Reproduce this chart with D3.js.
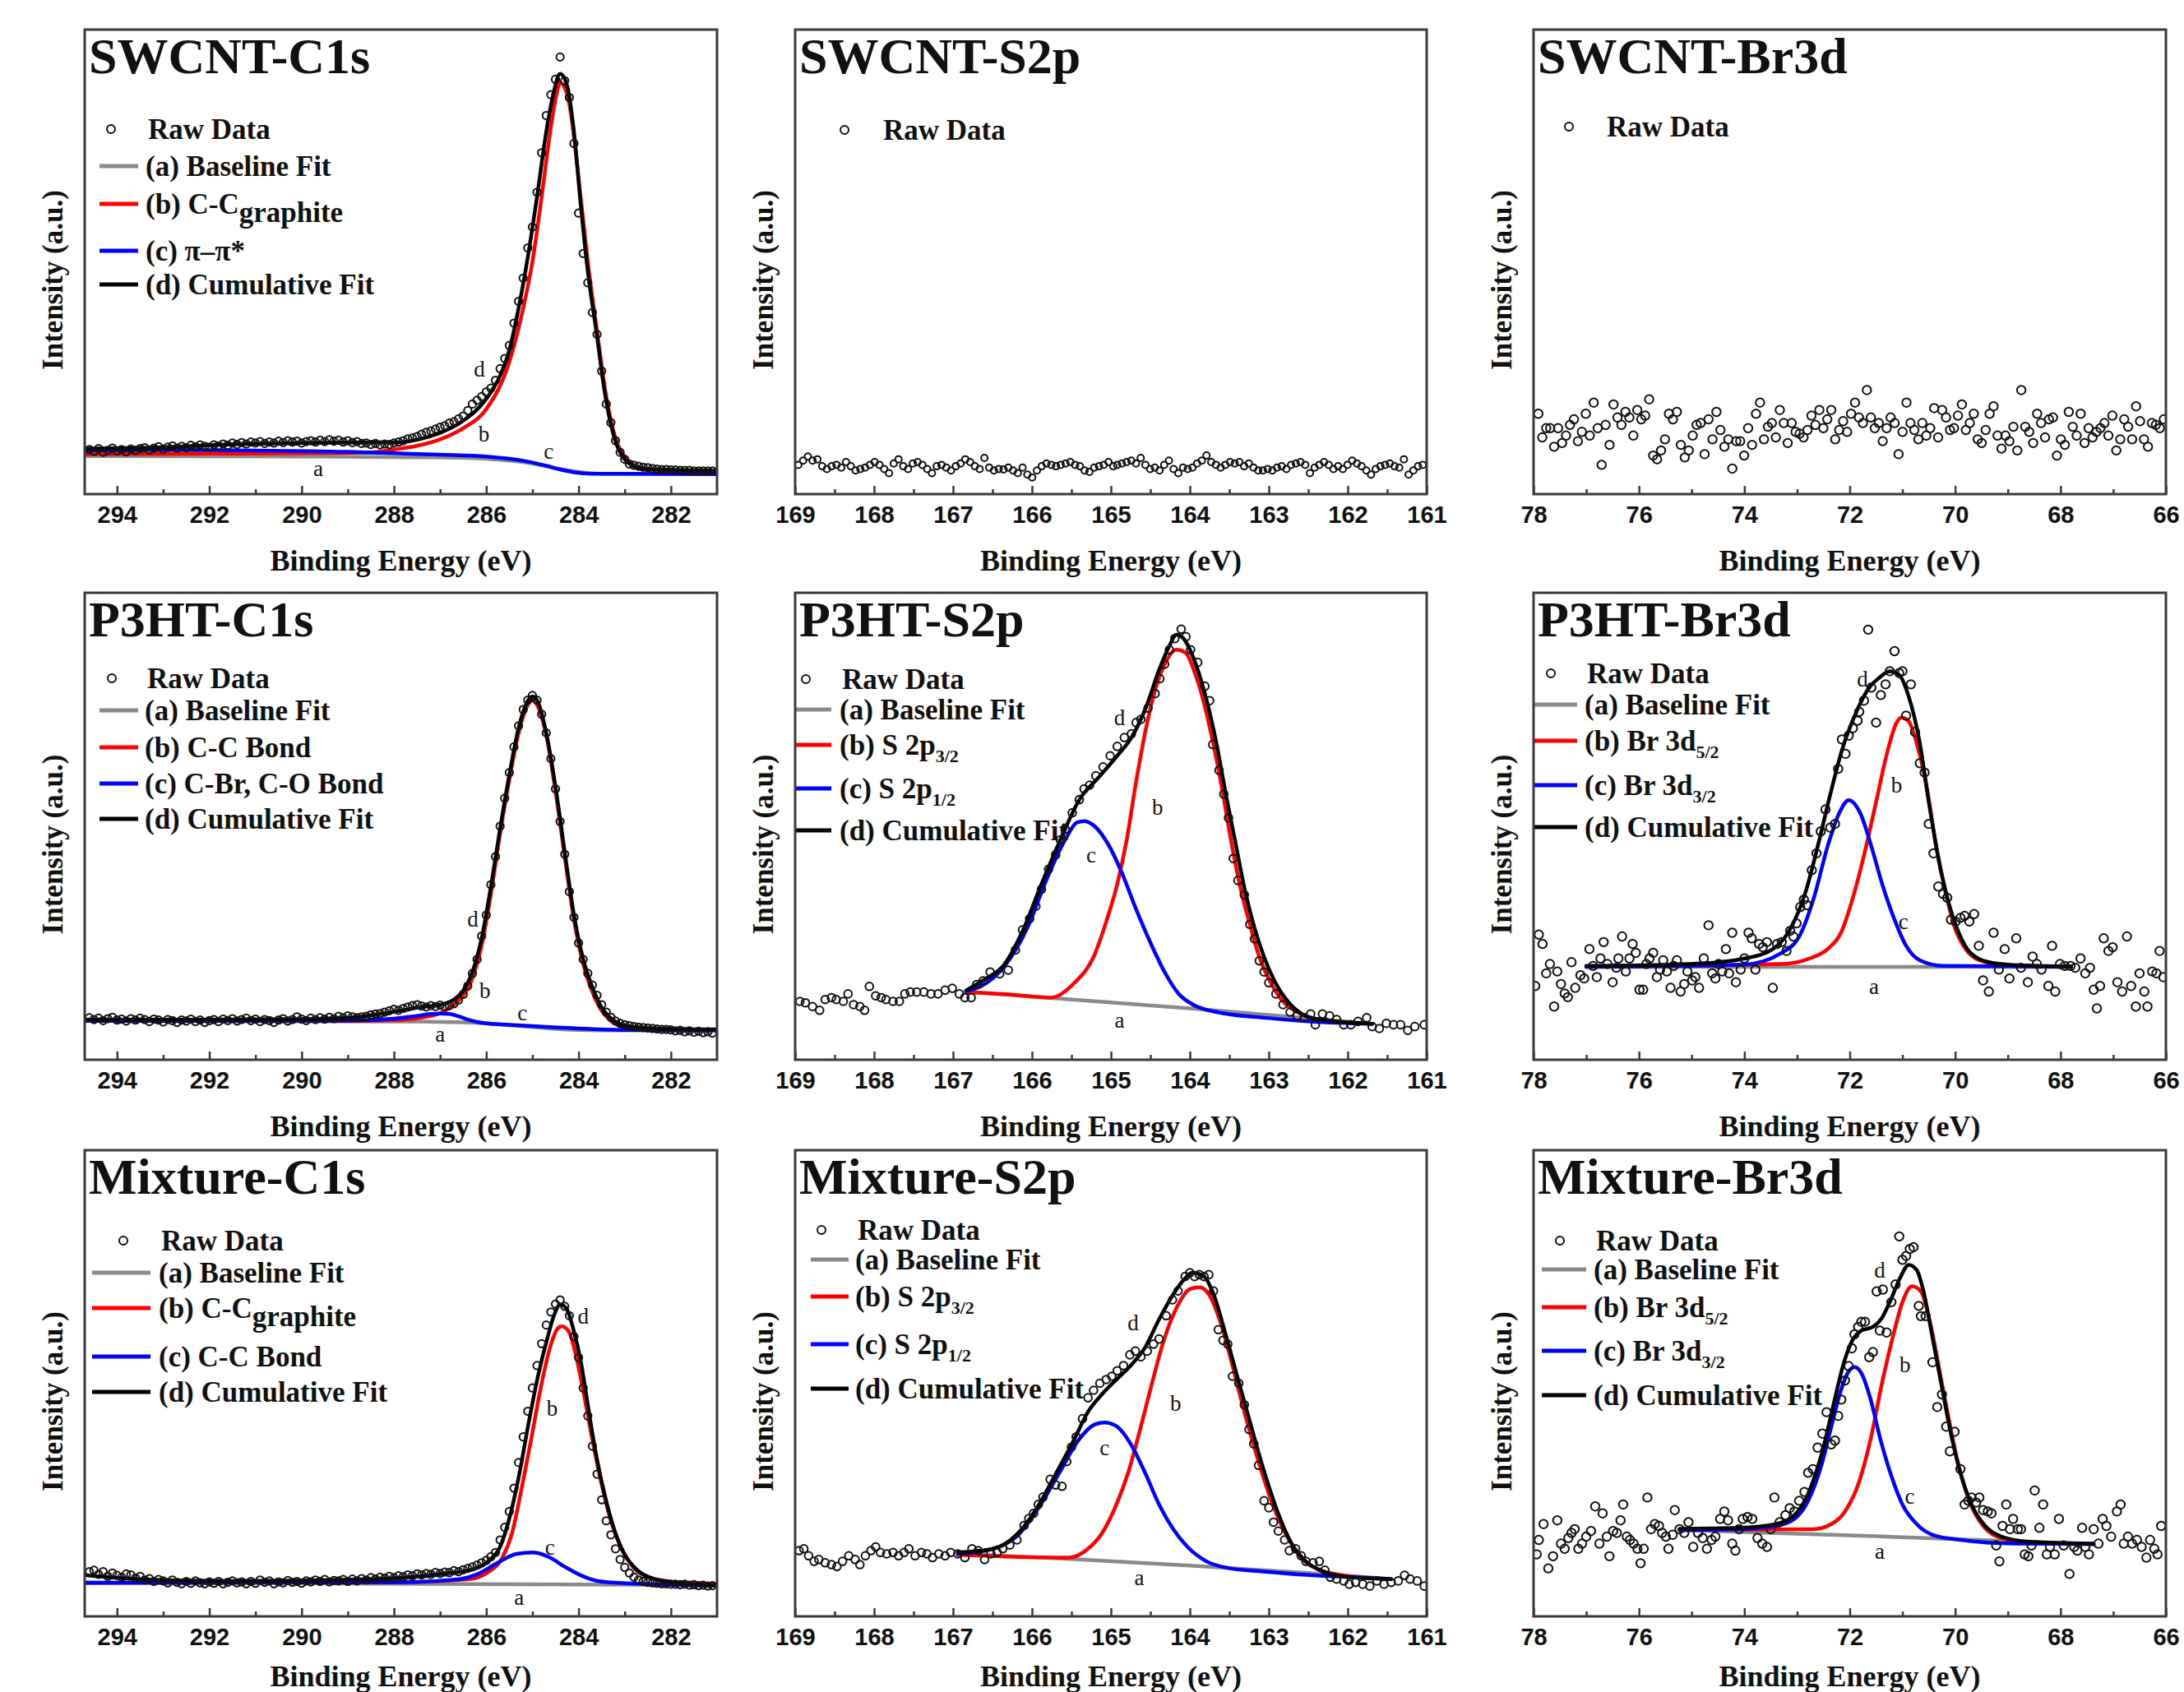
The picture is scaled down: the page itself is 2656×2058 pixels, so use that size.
<!DOCTYPE html>
<html>
<head>
<meta charset="utf-8">
<script src="https://cdn.jsdelivr.net/npm/d3@7"></script>
<style>
  body { margin: 0; background: #fff; }
  svg { display: block; }
</style>
</head>
<body>
<svg id="chart" width="2656" height="2058"></svg>
<script>
// ---- axis ticks (binding energy, eV) ----
const c1sDomain = [294.7, 281];
const c1sTicks = [294, 292, 290, 288, 286, 284, 282];
const c1sMinor = [293, 291, 289, 287, 285, 283];
const s2pDomain = [169, 161];
const s2pTicks = [169, 168, 167, 166, 165, 164, 163, 162, 161];
const s2pMinor = [168.5, 167.5, 166.5, 165.5, 164.5, 163.5, 162.5, 161.5];
const br3dDomain = [78, 66];
const br3dTicks = [78, 76, 74, 72, 70, 68, 66];
const br3dMinor = [77, 75, 73, 71, 69, 67];

// ---- raw data, intensity in % of panel height ----
// C1s spectra: 0.1 eV steps starting at 294.6 eV
const swcntC1sRaw = [
  9.6, 9.2, 9.8, 9.0, 9.4, 9.9, 9.3, 9.6, 9.1, 9.7,
  9.4, 9.8, 10.0, 9.5, 9.9, 10.2, 9.7, 10.1, 10.4, 9.9,
  10.3, 10.0, 10.5, 10.2, 10.6, 10.3, 10.1, 10.6, 10.4, 10.8,
  10.5, 11.0, 10.7, 11.1, 10.8, 11.2, 11.0, 11.3, 10.9, 11.2,
  11.0, 11.4, 11.1, 11.5, 11.2, 11.4, 11.0, 11.3, 11.5, 11.2,
  11.6, 11.3, 11.7, 11.4, 11.6, 11.2, 11.5, 11.1, 11.3, 10.9,
  11.0, 10.7, 10.9, 10.6, 10.8, 10.7, 11.0, 11.2, 11.5, 11.9,
  12.1, 12.4, 12.9, 13.3, 13.6, 14.0, 14.4, 14.7, 15.3, 15.6,
  16.2, 16.8, 18.0, 19.4, 20.2, 21.0, 22.0, 22.8, 24.5, 27.0,
  29.2, 32.0, 36.8, 41.5, 46.5, 53.0, 57.5, 65.0, 73.5, 81.5,
  86.0, 89.3, 94.1, 89.0, 85.4, 75.5, 60.5, 51.8, 45.5, 39.1,
  34.4, 26.5, 19.4, 15.4, 11.5, 9.0, 7.5, 6.5, 6.2, 6.0,
  5.8, 5.7, 5.5, 5.4, 5.3, 5.3, 5.2, 5.2, 5.1, 5.1,
  5.1, 5.0, 5.0, 5.0, 5.0, 5.0
];
const p3htC1sRaw = [
  9.0, 8.6, 8.9, 8.4, 8.8, 9.1, 8.5, 8.7, 8.3, 8.8,
  8.5, 8.9, 8.6, 8.2, 8.7, 8.5, 8.1, 8.6, 8.4, 8.0,
  8.5, 8.3, 8.7, 8.2, 8.5, 8.0, 8.4, 8.6, 8.2, 8.7,
  8.4, 8.8, 8.3, 8.6, 8.9, 8.4, 8.7, 8.2, 8.6, 8.4,
  8.0, 8.5, 8.8, 8.3, 8.6, 9.2, 8.7, 8.4, 8.9, 8.6,
  9.0, 8.7, 9.1, 8.8, 9.3, 9.0, 9.4, 9.2, 9.0, 9.2,
  9.3, 9.6, 9.8, 9.9, 10.2, 10.5, 10.8, 10.6, 11.0, 11.3,
  11.6, 11.8, 11.5, 11.3, 11.6, 11.4, 11.7, 11.4, 11.6, 12.0,
  12.8, 14.0, 15.8, 18.5, 21.5, 26.5, 31.0, 37.5, 43.5, 50.0,
  56.0, 61.5, 67.0, 71.5, 75.0, 77.0, 78.0, 77.0, 74.0, 70.0,
  64.5, 58.0, 51.0, 44.0, 36.0, 30.5, 25.0, 21.5, 18.5, 16.0,
  13.8, 11.8, 10.2, 9.1, 8.3, 7.8, 7.5, 7.3, 7.1, 7.0,
  6.9, 6.8, 6.7, 6.6, 6.5, 6.5, 6.4, 6.2, 6.3, 6.0,
  6.2, 5.9, 6.1, 5.8, 6.0, 5.7
];
const mixC1sRaw = [
  9.6, 9.9, 9.0, 9.6, 8.6, 9.3, 8.8, 8.4, 9.1, 8.9,
  8.2, 8.6, 7.8, 8.1, 7.5, 7.9, 7.6, 7.2, 7.8, 7.3,
  7.0, 7.5, 7.1, 7.6, 7.2, 7.0, 7.4, 7.1, 7.5, 7.0,
  7.3, 7.6, 7.2, 7.4, 7.0, 7.5, 7.1, 7.8, 7.3, 7.6,
  7.0, 7.4, 7.2, 7.7, 7.3, 7.5, 7.1, 7.6, 7.4, 7.8,
  7.5, 7.9, 7.4, 7.7, 7.6, 7.9, 7.5, 8.0, 7.6, 8.1,
  7.8, 8.3, 8.0, 8.4, 8.2, 8.6, 8.3, 8.7, 8.5, 8.9,
  8.7, 9.1, 8.9, 9.2, 9.0, 9.4, 9.2, 9.5, 9.4, 9.8,
  9.6, 10.0, 10.3, 10.6, 11.0, 11.5, 12.0, 12.8, 13.7, 16.4,
  19.1, 22.5, 27.5, 33.0, 38.5, 44.0, 49.0, 53.8, 58.5, 62.5,
  65.3, 67.0, 67.9, 66.5, 64.5, 60.0, 55.5, 49.0, 43.0, 36.5,
  30.5, 25.0, 20.5, 17.5, 14.5, 12.2, 10.5, 9.3, 8.4, 7.8,
  7.5, 7.3, 7.2, 7.1, 7.0, 7.0, 6.9, 6.9, 6.8, 6.9,
  6.7, 6.8, 6.6, 6.7, 6.5, 6.6
];
// SWCNT S2p: evenly spread 168.96 -> 164.97 eV, then 164.92 -> 161.05 eV
const swcntS2pRawHigh = [
  6.3, 7.2, 8.1, 7.2, 7.5, 6.0, 5.4, 6.0, 6.3, 5.7,
  6.9, 6.0, 5.1, 5.4, 5.7, 6.3, 6.9, 6.3, 5.4, 4.5,
  6.6, 7.5, 6.0, 5.4, 6.6, 6.9, 6.3, 5.4, 4.5, 6.0,
  6.3, 5.7, 5.1, 6.0, 6.6, 7.5, 6.9, 6.0, 5.4, 7.8,
  5.7, 5.1, 5.4, 5.3, 5.7, 5.1, 4.5, 5.7, 4.2, 3.6,
  5.1, 6.0, 6.6, 6.3, 6.0, 6.3, 6.6, 6.9, 6.3, 6.0,
  5.1, 4.8, 5.7, 6.0, 6.3, 6.9, 6.0
];
const swcntS2pRawLow = [
  6.3, 6.6, 6.9, 7.2, 6.6, 7.8, 6.3, 5.4, 5.7, 5.1,
  6.3, 7.2, 5.4, 4.5, 5.7, 5.4, 5.7, 6.6, 7.2, 8.3,
  6.9, 6.3, 5.7, 6.3, 6.9, 6.6, 6.9, 6.0, 6.6, 5.7,
  5.1, 5.1, 5.4, 5.1, 5.7, 6.0, 5.4, 6.3, 6.6, 6.9,
  6.3, 4.5, 5.7, 6.3, 6.9, 6.3, 5.4, 6.0, 5.4, 6.3,
  7.2, 6.6, 6.0, 5.1, 4.2, 5.4, 6.0, 6.3, 6.6, 6.0,
  5.7, 7.5, 4.2, 5.1, 6.0, 6.3
];
// SWCNT Br3d: evenly spread from 77.91 to 66.04 eV
const swcntBr3dRaw = [
  17.3, 12.2, 14.2, 14.2, 10.2, 14.2, 11.0, 12.6, 14.9, 16.1,
  11.4, 13.4, 17.3, 12.6, 19.7, 14.2, 6.3, 14.9, 10.6, 19.3,
  16.5, 14.9, 17.7, 16.5, 12.6, 18.1, 16.1, 16.9, 20.4, 8.3,
  7.5, 9.4, 11.8, 17.3, 16.1, 17.7, 10.6, 7.9, 9.4, 12.6,
  14.9, 15.3, 8.6, 16.1, 11.8, 17.7, 13.8, 10.2, 11.8, 5.5,
  11.4, 11.4, 8.3, 14.2, 10.6, 17.3, 19.7, 11.8, 14.5, 15.3,
  12.2, 18.1, 15.3, 11.0, 15.3, 13.4, 13.0, 12.2, 13.8, 16.9,
  14.9, 18.1, 14.2, 16.1, 18.1, 11.8, 13.8, 15.7, 13.4, 17.3,
  19.7, 16.5, 15.3, 22.4, 16.5, 14.2, 15.3, 11.4, 14.2, 16.5,
  15.3, 8.6, 13.4, 19.7, 15.3, 13.8, 11.8, 15.3, 12.6, 14.2,
  18.5, 12.2, 18.1, 16.5, 13.8, 14.2, 16.9, 19.3, 13.8, 15.3,
  17.3, 11.8, 11.0, 13.8, 17.3, 18.9, 12.6, 9.8, 12.6, 11.4,
  14.5, 9.4, 22.4, 14.5, 13.4, 11.0, 17.3, 15.3, 12.2, 16.1,
  16.5, 8.3, 11.8, 10.6, 17.7, 14.5, 12.6, 17.3, 11.0, 14.2,
  12.2, 13.4, 14.2, 15.3, 12.6, 16.9, 9.4, 11.8, 16.1, 14.5,
  11.8, 18.9, 15.7, 11.8, 10.2, 15.3, 14.9, 14.2, 16.1
];
// [eV, intensity] pairs
const p3htS2pRaw = [
  [168.94,12.5],[168.87,12.2],[168.78,11.4],[168.69,10.6],[168.62,12.9],[168.54,13.3],[168.48,12.9],[168.39,12.5],
  [168.33,14.1],[168.26,11.8],[168.18,11.4],[168.12,10.6],[168.06,15.7],[167.98,13.7],[167.91,13.3],[167.85,12.9],
  [167.76,12.5],[167.68,12.5],[167.61,14.1],[167.54,14.5],[167.46,14.5],[167.37,14.5],[167.28,14.1],[167.19,14.1],
  [167.10,14.9],[167.01,15.3],[166.92,14.1],[166.85,13.3],[166.77,13.3],[166.70,16.1],[166.62,16.9],[166.53,18.8],
  [166.41,18.4],[166.30,19.2],[166.21,23.5],[166.12,27.8],[166.03,30.2],[165.95,32.9],[165.88,36.5],[165.79,40.8],
  [165.70,43.9],[165.64,47.1],[165.58,49.4],[165.49,52.9],[165.40,55.7],[165.34,58.0],[165.27,58.8],[165.19,60.8],
  [165.10,62.7],[165.01,65.1],[164.92,67.1],[164.83,69.0],[164.74,69.8],[164.68,72.2],[164.62,72.9],[164.53,75.3],
  [164.44,78.4],[164.38,81.6],[164.32,84.7],[164.26,87.8],[164.19,90.2],[164.11,92.2],[164.05,90.6],[163.99,87.8],
  [163.90,85.1],[163.81,80.0],[163.75,76.9],[163.71,67.5],[163.63,62.0],[163.57,56.9],[163.51,51.8],[163.45,43.1],
  [163.39,38.4],[163.31,35.3],[163.24,29.0],[163.18,25.9],[163.12,21.2],[163.06,18.8],[163.00,16.5],[162.91,14.1],
  [162.82,11.8],[162.73,10.2],[162.64,9.4],[162.55,9.0],[162.47,9.8],[162.41,7.5],[162.32,9.8],[162.23,9.4],
  [162.14,8.6],[162.05,7.5],[161.96,7.5],[161.87,8.2],[161.76,9.0],[161.69,7.1],[161.60,6.7],[161.51,7.8],
  [161.42,7.5],[161.33,7.5],[161.24,6.3],[161.15,7.1],[161.03,7.5]
];
const mixS2pRaw = [
  [168.95,14.1],[168.89,14.5],[168.83,13.0],[168.76,11.8],[168.70,12.2],[168.62,11.5],[168.54,11.1],[168.47,10.7],
  [168.40,11.8],[168.32,13.0],[168.24,12.2],[168.18,11.1],[168.11,13.0],[168.04,14.1],[167.98,14.9],[167.92,13.7],
  [167.84,13.4],[167.76,13.7],[167.69,13.0],[167.62,13.7],[167.56,14.5],[167.48,13.0],[167.40,13.7],[167.33,13.4],
  [167.26,12.6],[167.18,13.4],[167.10,13.0],[167.03,13.7],[166.94,13.4],[166.85,12.6],[166.76,14.5],[166.68,14.1],
  [166.60,12.2],[166.52,13.4],[166.44,13.7],[166.37,14.5],[166.28,15.3],[166.19,16.4],[166.10,19.5],[166.04,21.0],
  [165.98,22.1],[165.92,24.0],[165.86,25.6],[165.77,29.4],[165.70,28.2],[165.62,27.9],[165.56,33.2],[165.50,36.3],
  [165.44,38.5],[165.36,42.4],[165.29,46.9],[165.22,48.5],[165.14,50.0],[165.06,50.8],[164.99,51.5],[164.92,52.7],
  [164.84,53.8],[164.76,56.1],[164.69,56.9],[164.62,55.7],[164.54,56.9],[164.46,58.4],[164.39,59.5],[164.30,64.5],
  [164.22,67.9],[164.15,69.8],[164.06,72.9],[164.00,73.7],[163.94,72.9],[163.88,73.3],[163.82,72.9],[163.76,73.3],
  [163.70,69.8],[163.64,61.5],[163.58,59.2],[163.52,58.4],[163.46,51.5],[163.38,50.0],[163.31,45.4],[163.25,40.1],
  [163.19,37.0],[163.13,32.4],[163.06,24.8],[163.00,23.3],[162.94,20.2],[162.88,18.3],[162.80,16.4],[162.74,14.1],
  [162.66,14.5],[162.59,13.0],[162.53,11.8],[162.44,11.5],[162.36,11.8],[162.29,9.9],[162.22,8.4],[162.14,8.0],
  [162.05,7.6],[161.98,6.9],[161.90,7.3],[161.81,6.9],[161.72,6.5],[161.63,7.6],[161.54,6.9],[161.45,7.3],
  [161.36,7.6],[161.28,8.8],[161.21,8.0],[161.12,7.6],[161.03,6.5]
];
const p3htBr3dRaw = [
  [77.97,15.8],[77.90,26.8],[77.83,24.8],[77.76,18.5],[77.69,20.5],[77.61,11.4],[77.55,18.9],[77.48,16.2],
  [77.41,14.2],[77.35,13.4],[77.28,20.9],[77.21,15.4],[77.11,18.1],[77.04,17.4],[76.94,23.7],[76.87,20.1],
  [76.80,17.7],[76.73,21.7],[76.67,25.2],[76.60,20.5],[76.50,16.6],[76.43,19.7],[76.39,21.7],[76.32,26.4],
  [76.25,18.9],[76.18,21.7],[76.12,24.8],[76.06,22.9],[75.99,15.0],[75.92,15.0],[75.86,20.5],[75.80,21.7],
  [75.73,22.9],[75.66,17.7],[75.60,19.3],[75.54,21.3],[75.47,18.9],[75.40,15.4],[75.34,20.1],[75.28,21.3],
  [75.21,14.6],[75.14,16.2],[75.08,18.9],[74.99,17.0],[74.93,17.7],[74.86,15.4],[74.77,21.7],[74.68,28.8],
  [74.61,18.5],[74.55,17.4],[74.49,20.5],[74.42,18.9],[74.35,23.7],[74.29,18.5],[74.23,27.2],[74.16,16.6],
  [74.07,19.3],[74.00,21.7],[73.92,27.2],[73.86,26.0],[73.79,19.3],[73.72,24.8],[73.65,24.1],[73.57,25.2],
  [73.46,15.4],[73.38,24.8],[73.29,25.2],[73.20,23.3],[73.13,27.6],[73.07,26.4],[73.01,29.2],[72.94,32.7],
  [72.87,34.3],[72.81,33.1],[72.72,40.6],[72.63,44.2],[72.55,48.9],[72.46,53.6],[72.37,49.7],[72.28,50.5],
  [72.22,62.3],[72.15,68.6],[72.08,65.5],[72.02,69.4],[71.94,71.0],[71.85,72.6],[71.82,74.5],[71.73,76.9],
  [71.65,92.1],[71.59,79.7],[71.50,72.2],[71.41,78.1],[71.32,80.4],[71.24,83.2],[71.15,87.5],[71.06,82.8],
  [71.00,83.2],[70.93,73.7],[70.84,80.4],[70.76,70.2],[70.67,63.5],[70.58,61.5],[70.50,50.5],[70.41,44.2],
  [70.32,37.1],[70.23,35.5],[70.15,34.7],[70.08,30.0],[69.99,29.6],[69.90,30.4],[69.82,30.8],[69.73,29.6],
  [69.64,31.2],[69.55,24.4],[69.47,17.0],[69.36,14.6],[69.27,27.2],[69.17,19.3],[69.06,23.7],[68.97,17.4],
  [68.84,26.0],[68.75,19.7],[68.62,16.6],[68.53,22.1],[68.45,20.5],[68.36,19.3],[68.23,15.8],[68.16,24.4],
  [68.10,14.6],[68.01,20.5],[67.92,20.1],[67.81,20.1],[67.72,19.7],[67.62,21.7],[67.53,18.5],[67.44,19.7],
  [67.37,15.0],[67.31,11.0],[67.25,15.8],[67.18,26.0],[67.09,23.3],[67.01,24.1],[66.92,16.6],[66.83,14.6],
  [66.74,26.4],[66.66,15.8],[66.57,11.4],[66.50,18.5],[66.41,14.6],[66.35,11.4],[66.26,18.9],[66.18,18.5],
  [66.12,23.3],[66.05,17.7]
];
const mixBr3dRaw = [
  [77.94,13.3],[77.90,16.4],[77.81,19.8],[77.72,10.3],[77.63,12.9],[77.55,20.6],[77.48,15.6],[77.41,14.5],
  [77.34,16.8],[77.28,17.9],[77.22,18.7],[77.15,14.5],[77.08,15.6],[77.00,17.1],[76.91,18.3],[76.83,23.6],
  [76.75,15.6],[76.69,22.1],[76.61,17.1],[76.56,12.9],[76.49,18.3],[76.42,17.9],[76.35,20.6],[76.30,24.0],
  [76.23,17.1],[76.17,16.4],[76.10,15.6],[76.03,14.5],[75.97,11.4],[75.91,14.5],[75.84,25.5],[75.77,18.7],
  [75.70,19.8],[75.62,19.4],[75.56,17.9],[75.49,17.1],[75.44,14.5],[75.36,17.5],[75.32,22.8],[75.23,18.7],
  [75.14,17.9],[75.06,20.2],[74.97,14.9],[74.88,17.9],[74.79,16.8],[74.71,14.5],[74.62,16.4],[74.55,17.1],
  [74.46,20.9],[74.38,22.5],[74.31,20.6],[74.23,15.6],[74.17,14.1],[74.10,18.7],[74.03,20.9],[73.94,21.3],
  [73.85,20.9],[73.75,16.8],[73.66,15.6],[73.57,14.9],[73.50,18.7],[73.43,25.5],[73.33,20.2],[73.22,21.7],
  [73.14,23.2],[73.05,22.5],[72.96,24.8],[72.86,26.7],[72.79,30.8],[72.70,31.6],[72.61,36.2],[72.52,39.2],
  [72.44,43.8],[72.35,36.9],[72.28,37.7],[72.22,43.0],[72.16,46.5],[72.09,50.6],[72.02,53.7],[71.96,57.5],
  [71.91,60.5],[71.84,62.1],[71.78,63.2],[71.71,63.2],[71.63,55.6],[71.56,56.7],[71.49,69.7],[71.43,61.3],
  [71.37,70.1],[71.30,60.9],[71.21,67.4],[71.13,71.2],[71.06,81.5],[71.00,76.5],[70.93,77.3],[70.86,78.8],
  [70.79,79.2],[70.69,66.6],[70.65,64.4],[70.56,64.4],[70.43,54.5],[70.34,44.9],[70.25,47.6],[70.17,40.7],
  [70.10,35.4],[70.01,39.6],[69.90,31.6],[69.82,24.0],[69.75,24.8],[69.69,25.5],[69.60,24.4],[69.54,25.5],
  [69.47,22.8],[69.38,22.5],[69.31,22.1],[69.22,15.2],[69.16,11.8],[69.10,19.4],[69.03,24.0],[68.96,18.7],
  [68.90,20.9],[68.81,18.7],[68.75,18.7],[68.68,13.3],[68.61,12.9],[68.55,15.2],[68.49,27.0],[68.40,19.0],
  [68.33,24.0],[68.26,13.3],[68.20,14.9],[68.11,13.3],[68.03,20.9],[67.94,15.2],[67.83,9.1],[67.74,14.9],
  [67.68,14.1],[67.59,19.0],[67.53,14.9],[67.46,13.3],[67.37,18.7],[67.28,15.6],[67.20,20.9],[67.13,19.4],
  [67.04,17.1],[66.93,22.5],[66.86,24.0],[66.80,15.6],[66.72,17.1],[66.64,15.6],[66.55,16.4],[66.46,14.9],
  [66.37,12.6],[66.30,16.4],[66.22,14.5],[66.16,13.3],[66.09,19.4]
];

// ---- fitted curves: [eV, intensity] ----
const swcntC1sA = [[294.7,8.2],[290,8.1],[287,7.9],[286,7.6],[285,6.6],[284.5,5.6],[284,4.8],[283.5,4.4],[281,4.3]];
const swcntC1sB = [[294.7,8.6],[292,8.7],[290,8.8],[288.5,9.0],[288,9.6],[287.5,10.4],[287,11.8],[286.5,14.2],[286,18.3],
  [285.5,28.5],[285.2,40],[285,50],[284.8,64],[284.6,79],[284.5,85],[284.4,88.5],[284.3,87.5],[284.2,84],[284.1,77],
  [284.0,68],[283.9,59],[283.8,50],[283.6,35],[283.4,21],[283.2,12],[283.0,8.0],[282.8,6.2],[282.5,5.4],[282,5.1],[281,5.0]];
const swcntC1sC = [[294.7,9.4],[293,9.5],[291,9.4],[289,9.1],[288,8.8],[287,8.5],[286,8.1],[285.5,7.6],[285,6.8],
  [284.7,6.1],[284.4,5.3],[284.1,4.7],[283.7,4.4],[281,4.3]];
const swcntC1sD = [[294.7,9.8],[293,10.1],[291.5,10.7],[290,11.0],[289,11.1],[288,11.1],[287.5,11.7],[287,13.2],[286.5,15.8],
  [286,20.5],[285.7,25.5],[285.5,31],[285.3,40],[285.1,51],[284.9,64],[284.7,78],[284.55,86],[284.4,90.5],[284.25,88],
  [284.1,78],[283.95,62],[283.8,48],[283.6,34],[283.45,23],[283.3,15],[283.15,10],[283,7.5],[282.8,6.0],[282.5,5.4],[282,5.2],[281,5.0]];

const p3htC1sA = [[294.7,8.3],[288,8.2],[286.5,8.0],[285.5,7.4],[285,7.0],[284.5,6.6],[284,6.4],[283,6.3],[281,6.3]];
const p3htC1sB = [[294.7,8.3],[289,8.3],[288,8.5],[287.5,8.9],[287,10.0],[286.7,11.8],[286.5,13.8],[286.3,17.5],[286.1,24.5],
  [285.9,35.5],[285.7,48.5],[285.5,60],[285.3,70],[285.1,76],[285.0,77],[284.9,76],[284.7,69.5],[284.5,57.5],[284.3,43.5],
  [284.1,30],[283.9,20.5],[283.7,14.5],[283.5,10.5],[283.3,8.3],[283.1,7.2],[282.8,6.7],[282,6.4],[281,6.3]];
const p3htC1sC = [[294.7,8.3],[289,8.4],[288,8.8],[287.5,9.4],[287.2,9.8],[287,9.9],[286.8,9.8],[286.6,9.3],[286.4,8.6],
  [286.2,8.1],[286,7.8],[285.5,7.5],[285,7.2],[284,6.7],[283,6.4],[281,6.3]];
const p3htC1sD = [[294.7,8.6],[292,8.6],[290,8.7],[289,9.0],[288.3,9.8],[287.8,10.6],[287.4,11.3],[287.1,11.6],[286.9,12.0],
  [286.7,12.9],[286.5,14.8],[286.3,18.8],[286.1,26],[285.9,37],[285.7,49.5],[285.5,61],[285.3,71],[285.1,76.8],[285.0,77.8],
  [284.9,77],[284.7,70],[284.5,58.5],[284.3,44.5],[284.1,31],[283.9,21.5],[283.7,15.5],[283.5,11.2],[283.3,8.9],[283.1,7.6],
  [282.8,7.0],[282,6.6],[281,6.5]];

const mixC1sA = [[294.7,7.3],[281,6.7]];
const mixC1sB = [[294.7,7.2],[288,7.3],[286.37,8.0],[285.96,9.5],[285.65,12.6],[285.44,17.9],[285.24,27.1],[285.03,37.8],
  [284.83,48.5],[284.62,57.6],[284.47,61.5],[284.37,62.2],[284.21,61.1],[284.06,56.1],[283.9,48.5],[283.7,37.8],[283.49,27.9],
  [283.29,20.2],[283.08,14.9],[282.83,10.7],[282.47,8.4],[281.95,7.4],[281,6.9]];
const mixC1sC = [[294.7,7.2],[288,7.3],[286.58,8.0],[286.16,9.2],[285.75,11.5],[285.34,13.4],[284.98,13.7],[284.62,12.6],
  [284.31,10.7],[283.95,8.8],[283.59,7.6],[282.98,7.1],[281,6.6]];
const mixC1sD = [[294.65,8.8],[293.57,8.0],[291.51,7.6],[288.43,8.0],[286.88,9.2],[286.37,9.9],[285.96,11.8],[285.7,14.9],
  [285.5,21.0],[285.29,30.2],[285.08,41.6],[284.88,51.5],[284.67,59.9],[284.52,64.9],[284.4,66.9],[284.26,66.0],[284.11,61.5],
  [283.95,54.6],[283.8,45.4],[283.65,36.3],[283.44,26.3],[283.23,18.7],[283.03,13.7],[282.77,10.3],[282.36,8.0],[281.74,7.1],[281.0,6.6]];

const p3htS2pA = [[166.85,14.6],[165.8,13.3],[164,11.0],[162.5,8.9],[161.7,7.7]];
const p3htS2pB = [[166.83,14.5],[166.3,14.0],[165.76,13.3],[165.46,16.5],[165.22,22.0],[165.04,30.6],[164.92,37.6],[164.8,47.1],
  [164.68,59.6],[164.56,70.6],[164.44,79.2],[164.32,84.7],[164.17,87.8],[164.05,87.1],[163.96,83.9],[163.84,77.6],[163.72,69.0],
  [163.6,58.8],[163.48,47.1],[163.36,36.9],[163.24,29.0],[163.12,22.0],[163.0,17.3],[162.82,12.5],[162.64,10.2],[162.47,9.0],
  [162.17,8.2],[161.69,7.7]];
const p3htS2pC = [[166.83,14.7],[166.65,15.7],[166.35,20.0],[166.06,28.2],[165.82,38.4],[165.58,47.1],[165.43,50.8],[165.34,51.1],
  [165.22,50.2],[165.04,46.3],[164.86,40.0],[164.68,32.2],[164.5,25.1],[164.32,18.8],[164.14,14.1],[163.96,11.8],[163.66,10.2],
  [163.06,9.0],[162.47,8.2],[161.69,7.7]];
const p3htS2pD = [[166.83,14.9],[166.59,17.3],[166.35,20.4],[166.12,27.5],[165.88,37.6],[165.64,47.1],[165.4,55.7],[165.16,60.4],
  [164.92,65.1],[164.74,69.0],[164.56,75.3],[164.38,83.9],[164.26,88.6],[164.17,91.0],[164.08,90.2],[163.96,86.3],[163.81,78.4],
  [163.66,67.5],[163.54,56.5],[163.42,46.3],[163.3,36.1],[163.18,28.2],[163.06,22.0],[162.94,17.3],[162.76,12.5],[162.58,9.8],
  [162.35,8.6],[161.99,8.0],[161.69,7.7]];

const mixS2pA = [[166.94,13.4],[165.5,12.3],[164,10.9],[162.5,9.3],[161.45,8.0]];
const mixS2pB = [[166.94,13.2],[165.53,12.6],[165.29,14.5],[165.11,17.9],[164.93,24.0],[164.78,30.9],[164.63,40.1],[164.48,50.0],
  [164.33,59.2],[164.15,66.8],[164.0,70.2],[163.88,70.6],[163.76,69.1],[163.61,63.0],[163.46,53.8],[163.31,43.9],[163.13,33.2],
  [162.95,24.0],[162.77,17.2],[162.59,12.6],[162.35,9.9],[162.05,8.8],[161.45,8.0]];
const mixS2pC = [[166.94,13.4],[166.49,14.5],[166.19,17.2],[165.89,24.0],[165.65,30.9],[165.41,37.8],[165.2,41.2],[165.08,41.6],
  [164.93,40.8],[164.75,37.0],[164.57,30.9],[164.39,24.0],[164.21,18.7],[164.03,14.9],[163.79,11.8],[163.49,10.3],[163.13,9.7],
  [162.53,8.9],[161.93,8.4],[161.45,8.0]];
const mixS2pD = [[166.94,13.7],[166.49,14.5],[166.19,17.6],[165.95,22.9],[165.71,30.2],[165.47,37.8],[165.29,43.9],[165.11,47.7],
  [164.93,50.8],[164.75,53.8],[164.57,57.6],[164.39,63.7],[164.21,69.1],[164.06,72.5],[163.97,73.7],[163.82,72.9],[163.7,69.1],
  [163.55,60.7],[163.4,51.5],[163.25,42.4],[163.07,31.7],[162.89,22.5],[162.71,15.6],[162.53,11.8],[162.29,9.5],[161.99,8.4],[161.45,8.0]];

const p3htBr3dA = [[77.0,19.9],[67.8,19.9]];
const p3htBr3dB = [[77.0,19.9],[73.29,20.5],[72.76,21.7],[72.42,23.7],[72.15,27.6],[71.94,34.7],[71.72,44.2],[71.5,55.2],
  [71.28,66.2],[71.11,72.2],[71.02,73.3],[70.89,72.6],[70.71,67.0],[70.54,58.4],[70.36,45.7],[70.19,36.3],[70.01,28.4],
  [69.8,23.7],[69.54,21.3],[69.1,20.3],[67.8,19.9]];
const p3htBr3dC = [[77.0,19.9],[74.0,20.4],[73.29,22.9],[72.94,26.8],[72.68,34.7],[72.42,45.7],[72.2,52.8],[72.02,55.6],
  [71.8,52.8],[71.59,45.7],[71.37,37.1],[71.15,30.0],[70.93,24.4],[70.67,21.3],[70.23,20.1],[67.8,19.9]];
const p3htBr3dD = [[77.0,20.1],[75.03,20.5],[73.99,21.7],[73.46,23.7],[73.11,28.4],[72.85,35.5],[72.59,46.5],[72.37,56.8],
  [72.15,66.2],[71.89,74.1],[71.63,79.7],[71.46,81.6],[71.24,83.2],[71.06,82.4],[70.89,78.1],[70.67,67.8],[70.5,55.2],
  [70.28,41.0],[70.11,33.1],[69.93,27.2],[69.71,22.9],[69.36,20.9],[68.92,20.3],[67.8,20.0]];

const mixBr3dA = [[75.23,18.5],[71.5,17.2],[67.37,15.5]];
const mixBr3dB = [[75.23,18.5],[72.7,18.7],[72.35,19.8],[72.09,22.5],[71.83,28.6],[71.61,37.7],[71.39,49.9],[71.17,60.5],
  [71.0,67.4],[70.82,70.8],[70.65,69.7],[70.47,62.8],[70.3,52.9],[70.12,42.3],[69.95,33.1],[69.73,24.8],[69.47,19.4],
  [69.12,16.8],[68.59,15.8],[67.37,15.5]];
const mixBr3dC = [[75.23,18.5],[74.1,18.7],[73.4,19.4],[73.05,20.9],[72.79,24.8],[72.52,33.1],[72.35,40.7],[72.17,48.4],
  [72.04,52.2],[71.91,53.5],[71.78,52.2],[71.61,46.8],[71.43,38.5],[71.21,30.1],[71.0,24.0],[70.73,19.8],[70.43,17.5],
  [69.9,16.4],[68.86,15.6],[67.37,15.5]];
const mixBr3dD = [[75.23,18.8],[74.1,19.0],[73.4,19.8],[73.05,21.7],[72.79,26.3],[72.52,35.4],[72.31,45.3],[72.13,53.7],
  [71.96,59.0],[71.78,61.3],[71.56,62.1],[71.39,64.0],[71.21,68.2],[71.04,72.7],[70.88,75.4],[70.73,74.3],[70.6,69.7],
  [70.43,59.8],[70.25,49.1],[70.08,39.2],[69.9,30.8],[69.69,24.0],[69.43,19.4],[69.12,17.1],[68.59,16.0],[67.37,15.6]];

// ---- peak letters [letter, eV, intensity] ----
const swcntC1sTags = [["d",286.15,26.9],["b",286.05,13.0],["c",284.65,9.2],["a",289.64,5.5]];
const p3htC1sTags = [["d",286.29,30.2],["b",286.03,14.9],["c",285.22,10.2],["a",287.0,5.5]];
const mixC1sTags = [["d",283.9,64.5],["b",284.57,44.7],["c",284.62,14.9],["a",285.29,4.2]];
const p3htS2pTags = [["d",164.89,73.3],["b",164.41,54.1],["c",165.25,43.9],["a",164.89,8.6]];
const mixS2pTags = [["d",164.72,63.0],["b",164.18,45.8],["c",165.08,36.3],["a",164.64,8.4]];
const p3htBr3dTags = [["d",71.76,81.6],["b",71.11,58.8],["c",70.98,29.6],["a",71.54,15.8]];
const mixBr3dTags = [["d",71.43,74.3],["b",70.95,54.1],["c",70.86,25.9],["a",71.43,14.1]];

// ---- legend entries ----
const legendRaw = [["Raw Data"]];
const legendSwcntC1s = [["Raw Data"], ["(a) Baseline Fit"], ["(b) C-C", "graphite", "big"], ["(c) π–π*"], ["(d) Cumulative Fit"]];
const legendP3htC1s = [["Raw Data"], ["(a) Baseline Fit"], ["(b) C-C Bond"], ["(c) C-Br, C-O Bond"], ["(d) Cumulative Fit"]];
const legendMixC1s = [["Raw Data"], ["(a) Baseline Fit"], ["(b) C-C", "graphite", "big"], ["(c) C-C Bond"], ["(d) Cumulative Fit"]];
const legendS2p = [["Raw Data"], ["(a) Baseline Fit"], ["(b) S 2p", "3/2", "small"], ["(c) S 2p", "1/2", "small"], ["(d) Cumulative Fit"]];
const legendBr3d = [["Raw Data"], ["(a) Baseline Fit"], ["(b) Br 3d", "5/2", "small"], ["(c) Br 3d", "3/2", "small"], ["(d) Cumulative Fit"]];

// helpers to attach energies to evenly stepped readings
const onGrid = (start, step, ys) => ys.map((v, i) => [start - step * i, v]);
const spread = (start, end, ys) => ys.map((v, i) => [start + (end - start) * i / (ys.length - 1), v]);

const cols = [{x: 103, w: 769}, {x: 967, w: 768}, {x: 1865, w: 769}];
const rows = [{y: 36, h: 565, lab: 93}, {y: 721, h: 568, lab: 93}, {y: 1399, h: 567, lab: 85}];

const c1s = {domain: c1sDomain, ticks: c1sTicks, minor: c1sMinor};
const s2p = {domain: s2pDomain, ticks: s2pTicks, minor: s2pMinor};
const br3d = {domain: br3dDomain, ticks: br3dTicks, minor: br3dMinor};

const panels = [
  {title: "SWCNT-C1s", col: 0, row: 0, axis: c1s, r: 4.6, raw: onGrid(294.6, 0.1, swcntC1sRaw),
   fits: [swcntC1sA, swcntC1sB, swcntC1sC, swcntC1sD], tags: swcntC1sTags,
   legend: legendSwcntC1s, lg: {mx: 32, tx: 74, l0: 18, l1: 65, ys: [121, 166, 212, 269, 310]}},
  {title: "SWCNT-S2p", col: 1, row: 0, axis: s2p, r: 4.0,
   raw: spread(168.96, 164.97, swcntS2pRawHigh).concat(spread(164.92, 161.05, swcntS2pRawLow)),
   fits: [], tags: [], legend: legendRaw, lg: {mx: 60, tx: 104, ys: [122]}},
  {title: "SWCNT-Br3d", col: 2, row: 0, axis: br3d, r: 5.2, raw: spread(77.91, 66.04, swcntBr3dRaw),
   fits: [], tags: [], legend: legendRaw, lg: {mx: 43, tx: 86, ys: [118]}},
  {title: "P3HT-C1s", col: 0, row: 1, axis: c1s, r: 4.6, raw: onGrid(294.6, 0.1, p3htC1sRaw),
   fits: [p3htC1sA, p3htC1sB, p3htC1sC, p3htC1sD], tags: p3htC1sTags,
   legend: legendP3htC1s, lg: {mx: 33, tx: 73, l0: 18, l1: 65, ys: [104, 143, 188, 232, 275]}},
  {title: "P3HT-S2p", col: 1, row: 1, axis: s2p, r: 4.8, raw: p3htS2pRaw,
   fits: [p3htS2pA, p3htS2pB, p3htS2pC, p3htS2pD], tags: p3htS2pTags,
   legend: legendS2p, lg: {mx: 13, tx: 54, l0: 0, l1: 44, ys: [105, 142, 185, 238, 289]}},
  {title: "P3HT-Br3d", col: 2, row: 1, axis: br3d, r: 5.2, raw: p3htBr3dRaw,
   fits: [p3htBr3dA, p3htBr3dB, p3htBr3dC, p3htBr3dD], tags: p3htBr3dTags,
   legend: legendBr3d, lg: {mx: 21, tx: 62, l0: 0, l1: 53, ys: [98, 136, 180, 234, 285]}},
  {title: "Mixture-C1s", col: 0, row: 2, axis: c1s, r: 4.6, raw: onGrid(294.6, 0.1, mixC1sRaw),
   fits: [mixC1sA, mixC1sB, mixC1sC, mixC1sD], tags: mixC1sTags,
   legend: legendMixC1s, lg: {mx: 47, tx: 90, l0: 9, l1: 80, ys: [110, 149, 192, 251, 294]}},
  {title: "Mixture-S2p", col: 1, row: 2, axis: s2p, r: 4.8, raw: mixS2pRaw,
   fits: [mixS2pA, mixS2pB, mixS2pC, mixS2pD], tags: mixS2pTags,
   legend: legendS2p, lg: {mx: 32, tx: 73, l0: 19, l1: 65, ys: [97, 133, 178, 236, 290]}},
  {title: "Mixture-Br3d", col: 2, row: 2, axis: br3d, r: 5.2, raw: mixBr3dRaw,
   fits: [mixBr3dA, mixBr3dB, mixBr3dC, mixBr3dD], tags: mixBr3dTags,
   legend: legendBr3d, lg: {mx: 32, tx: 73, l0: 10, l1: 64, ys: [110, 145, 191, 244, 298]}}
];

const fitColors = ["#8a8a8a", "#ff0000", "#0000ff", "#000000"];
const serif = "'Liberation Serif', 'Times New Roman', serif";
const sans = "'Liberation Sans', Arial, sans-serif";
const frame = "#3a3a3a";
const ink = "#111";

const svg = d3.select("#chart");
svg.append("rect").attr("width", 2656).attr("height", 2058).attr("fill", "#fff");
const defs = svg.append("defs");

panels.forEach((p, idx) => {
  const c = cols[p.col], r = rows[p.row];
  const x = d3.scaleLinear().domain(p.axis.domain).range([0, c.w]);
  const y = d3.scaleLinear().domain([0, 100]).range([r.h, 0]);
  const g = svg.append("g").attr("transform", `translate(${c.x},${r.y})`);

  defs.append("clipPath").attr("id", `clip${idx}`)
    .append("rect").attr("width", c.w).attr("height", r.h);
  const plot = g.append("g").attr("clip-path", `url(#clip${idx})`);

  const line = d3.line().x(d => x(d[0])).y(d => y(d[1])).curve(d3.curveMonotoneX);
  p.fits.forEach((f, i) => {
    plot.append("path").attr("d", line(f)).attr("fill", "none")
      .attr("stroke", fitColors[i]).attr("stroke-width", 4.5)
      .attr("stroke-linejoin", "round").attr("stroke-linecap", "round");
  });

  plot.selectAll("circle.raw").data(p.raw).join("circle")
    .attr("class", "raw")
    .attr("cx", d => x(d[0])).attr("cy", d => y(d[1])).attr("r", p.r)
    .attr("fill", "none").attr("stroke", ink).attr("stroke-width", 2);

  g.selectAll("text.tag").data(p.tags).join("text")
    .attr("class", "tag")
    .attr("x", d => x(d[1])).attr("y", d => y(d[2])).attr("dy", "0.35em")
    .attr("text-anchor", "middle").attr("font-family", serif).attr("font-size", 27)
    .attr("fill", ink).text(d => d[0]);

  // legend
  const lgd = g.append("g").attr("font-family", serif).attr("font-weight", "bold")
    .attr("font-size", 35).attr("fill", ink);
  p.legend.forEach((item, i) => {
    const yy = p.lg.ys[i];
    if (i === 0) {
      lgd.append("circle").attr("cx", p.lg.mx).attr("cy", yy).attr("r", 5)
        .attr("fill", "none").attr("stroke", ink).attr("stroke-width", 2);
    } else {
      lgd.append("line").attr("x1", p.lg.l0).attr("x2", p.lg.l1).attr("y1", yy).attr("y2", yy)
        .attr("stroke", fitColors[i - 1]).attr("stroke-width", 5);
    }
    const t = lgd.append("text").attr("x", i === 0 ? p.lg.tx + 3 : p.lg.tx).attr("y", yy + 12);
    t.append("tspan").text(item[0]);
    if (item[1]) {
      const small = item[2] === "small";
      t.append("tspan").attr("dy", small ? 9 : 10).attr("font-size", small ? 22 : 35).text(item[1]);
    }
  });

  // title
  g.append("text").attr("x", 5).attr("y", 53)
    .attr("font-family", serif).attr("font-weight", "bold").attr("font-size", 62)
    .attr("fill", ink).text(p.title);

  // frame
  g.append("rect").attr("width", c.w).attr("height", r.h)
    .attr("fill", "none").attr("stroke", frame).attr("stroke-width", 3);

  // bottom axis with inward ticks
  const ax = g.append("g").attr("transform", `translate(0,${r.h})`)
    .call(d3.axisBottom(x).tickValues(p.axis.ticks).tickSize(-10).tickPadding(14).tickFormat(d3.format("d")));
  ax.select(".domain").remove();
  ax.selectAll(".tick line").attr("stroke", frame).attr("stroke-width", 2.5);
  ax.selectAll(".tick text").attr("font-family", sans).attr("font-weight", "bold")
    .attr("font-size", 29).attr("fill", ink);
  const mx = g.append("g").attr("transform", `translate(0,${r.h})`)
    .call(d3.axisBottom(x).tickValues(p.axis.minor).tickSize(-6).tickFormat(""));
  mx.select(".domain").remove();
  mx.selectAll(".tick line").attr("stroke", frame).attr("stroke-width", 2.5);

  g.append("text").attr("x", c.w / 2).attr("y", r.h + r.lab).attr("text-anchor", "middle")
    .attr("font-family", serif).attr("font-weight", "bold").attr("font-size", 36)
    .attr("fill", ink).text("Binding Energy (eV)");

  g.append("text").attr("transform", `translate(-39,${r.h / 2 + 22}) rotate(-90)`)
    .attr("text-anchor", "middle").attr("dominant-baseline", "central")
    .attr("font-family", serif).attr("font-weight", "bold").attr("font-size", 35)
    .attr("fill", ink).text("Intensity (a.u.)");
});
</script>
</body>
</html>
